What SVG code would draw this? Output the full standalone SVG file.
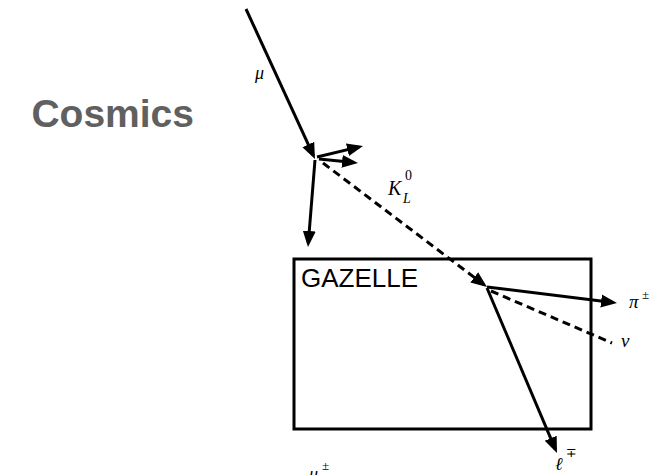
<svg xmlns="http://www.w3.org/2000/svg" width="654" height="475" viewBox="0 0 654 475">
<style>
.ln{stroke:#000;stroke-width:3;fill:none}
.dash{stroke-dasharray:8,5}
.m{font-family:"Liberation Serif","DejaVu Serif",serif;font-style:italic;fill:#000}
.up{font-family:"Liberation Serif","DejaVu Serif",serif;font-style:normal;fill:#000}
.title{font-family:"Liberation Sans",Arial,sans-serif;font-weight:bold;fill:#606060}
.box{font-family:"Liberation Sans",Arial,sans-serif;fill:#000}
</style>
<defs>
<marker id="ah" markerUnits="userSpaceOnUse" markerWidth="16" markerHeight="14" refX="12" refY="6.5" orient="auto" viewBox="0 0 16 13">
<path d="M0,0 L16,6.5 L0,13 z" fill="#000" stroke="none"/>
</marker>
</defs>
<g id="title"><text class="title" x="194" y="127" font-size="39" text-anchor="end">Cosmics</text></g>
<g id="gazelle">
<rect class="ln" x="294" y="259" width="297" height="170"/>
<text class="box" x="301" y="287" font-size="26">GAZELLE</text>
</g>
<g id="connectors">
<line class="ln" x1="246" y1="9" x2="313.3" y2="155.4" marker-end="url(#ah)"/>
<line class="ln" x1="317" y1="157" x2="359.1" y2="146.9" marker-end="url(#ah)"/>
<line class="ln" x1="319" y1="159" x2="354" y2="162.6" marker-end="url(#ah)"/>
<line class="ln" x1="315" y1="160" x2="308.3" y2="243" marker-end="url(#ah)"/>
<line class="ln dash" x1="323" y1="163" x2="483.8" y2="284.6" marker-end="url(#ah)"/>
<line class="ln" x1="487" y1="287" x2="613" y2="302.5" marker-end="url(#ah)"/>
<line class="ln" x1="487" y1="288" x2="555.4" y2="449.3" marker-end="url(#ah)"/>
<line class="ln dash" x1="491" y1="291" x2="612" y2="343"/>
</g>
<g id="labels">
<text class="m" x="255" y="79" font-size="18">μ</text>
<text class="m" x="388" y="195" font-size="20">K</text>
<text class="up" x="405" y="180" font-size="14">0</text>
<text class="m" x="403" y="203" font-size="14">L</text>
<text class="m" x="629" y="308" font-size="19">π</text>
<text class="up" x="642" y="299" font-size="13">±</text>
<text class="m" x="621" y="347" font-size="19">ν</text>
<text class="m" x="555" y="470" font-size="18">ℓ</text>
<text class="up" x="566" y="457" font-size="13">∓</text>
<text class="m" x="309" y="480" font-size="18">μ</text>
<text class="up" x="322" y="470" font-size="13">±</text>
</g>
</svg>
